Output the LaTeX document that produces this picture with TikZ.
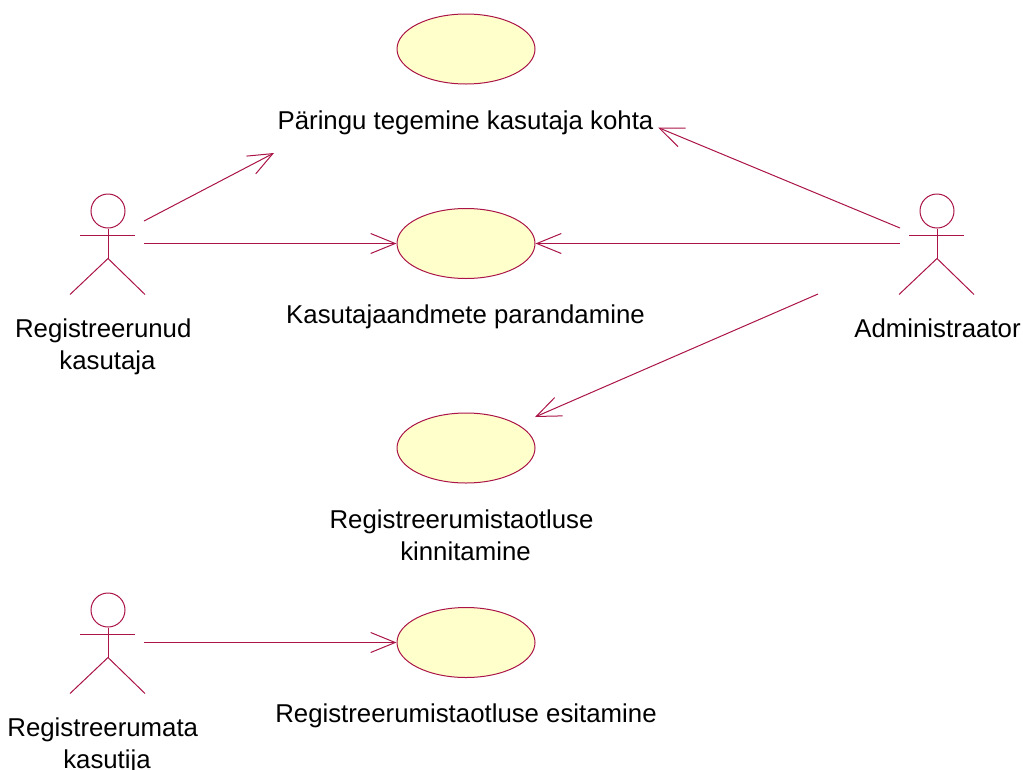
\documentclass[tikz,border=0pt]{standalone}
\usepackage{fontspec}
\setmainfont{Liberation Sans}
\usetikzlibrary{arrows.meta,shapes.geometric,calc}
\definecolor{umlline}{RGB}{170,20,70}
\definecolor{umlfill}{RGB}{255,255,204}
\tikzset{
  x=1pt,y=-1pt,
  usecase/.style={ellipse,draw=umlline,fill=umlfill,line width=1pt,minimum width=138pt,minimum height=70pt,inner sep=0pt},
  txtlabel/.style={text=black,align=center,font=\fontsize{25.8}{32}\selectfont,inner sep=0pt},
  limb/.style={draw=umlline,line width=1pt},
  assoc/.style={draw=umlline,line width=1pt,-{Straight Barb[length=24.5pt,width=20pt,line width=1pt]}},
  actorhead/.style={circle,draw=umlline,line width=1pt,minimum size=34pt,inner sep=0pt}
}
\newcommand{\actorfig}[3]{%
  \node[actorhead] (#1h) at (#2,#3) {};
  \draw[limb] (#1h.south) -- ++(0,30) coordinate (#1c);
  \draw[limb] ($(#1h.south)+(-28,6.5)$) -- ++(55,0);
  \draw[limb] (#1c) -- ++(-38,36);
  \draw[limb] (#1c) -- ++(37,36);
}
\begin{document}
\begin{tikzpicture}
\useasboundingbox (0,0) rectangle (1023,769);
\node[usecase] (u1) at (466,49) {};
\node[usecase] (u2) at (466,243.5) {};
\node[usecase] (u3) at (466,448) {};
\node[usecase] (u4) at (466,642.5) {};
\node[txtlabel,anchor=base] (t1) at (465.5,129) {Päringu tegemine kasutaja kohta};
\node[txtlabel,anchor=base] (t2) at (465.5,323) {Kasutajaandmete parandamine};
\node[txtlabel,anchor=north] (t3) at (465.5,509.2) {Registreerumistaotluse\hspace*{8pt}\\kinnitamine};
\node[txtlabel,anchor=base] (t4) at (466,722) {Registreerumistaotluse esitamine};
\actorfig{a}{108}{211}
\actorfig{b}{937}{211}
\actorfig{c}{108}{610}
\node[txtlabel,anchor=north] (la) at (107.5,318.2) {Registreerunud\hspace*{8.5pt}\\kasutaja};
\node[txtlabel,anchor=base] (lb) at (937.5,337) {Administraator};
\node[txtlabel,anchor=north] (lc) at (107,717.2) {Registreerumata\hspace*{8.5pt}\\kasutija};
\coordinate (s1) at (144,221);
\coordinate (e1) at (274,153);
\coordinate (s2) at (144,243.5);
\coordinate (s3) at (900,228);
\coordinate (e3) at (658,127.5);
\coordinate (s4) at (900,243.5);
\coordinate (s5) at (818,294);
\coordinate (e5) at (535,417);
\coordinate (s6) at (144,642.5);
\draw[assoc] (s1) -- (e1);
\draw[assoc] (s2) -- (u2.west);
\draw[assoc] (s3) -- (e3);
\draw[assoc] (s4) -- (u2.east);
\draw[assoc] (s5) -- (e5);
\draw[assoc] (s6) -- (u4.west);
\end{tikzpicture}
\end{document}
